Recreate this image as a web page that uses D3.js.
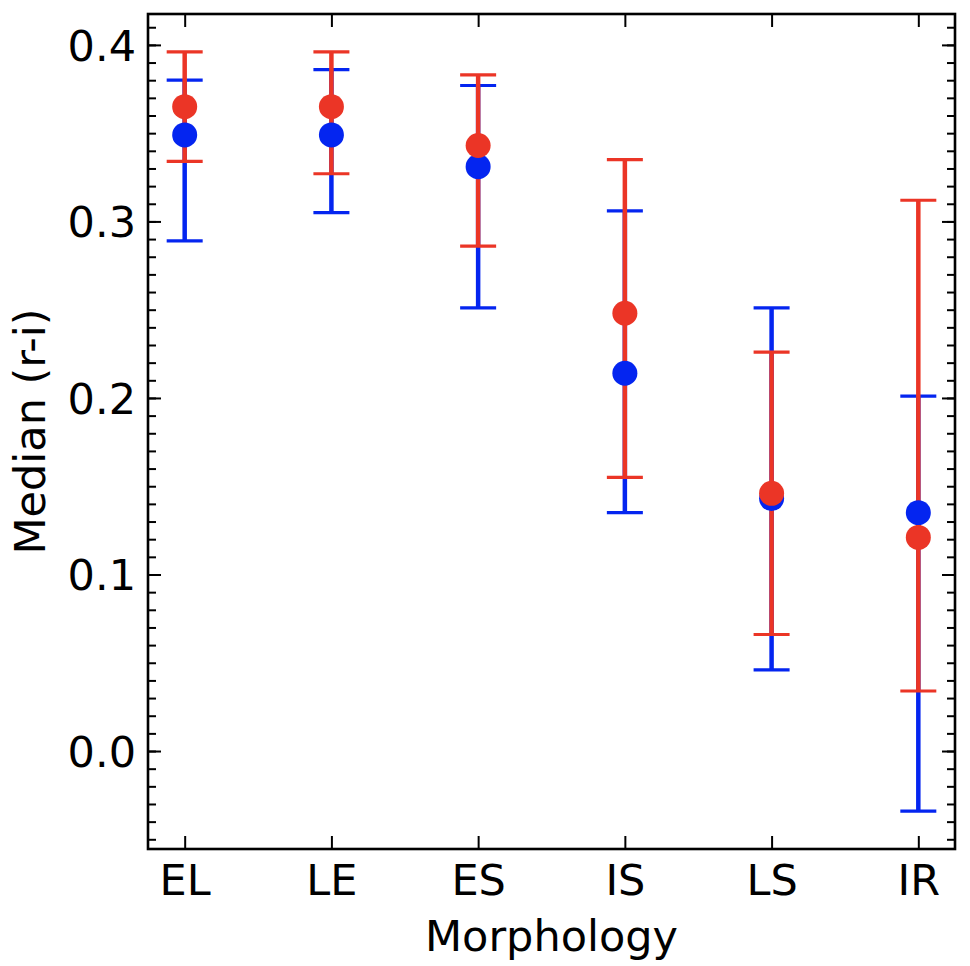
<!DOCTYPE html>
<html>
<head>
<meta charset="utf-8">
<script src="https://cdn.jsdelivr.net/npm/d3@7"></script>
<style>
    body { margin: 0; background: #fff; }
    #chart { width: 970px; height: 966px; }
    text { font-family: "DejaVu Sans", sans-serif; fill: #000; }
</style>
</head>
<body>
<div id="chart"></div>
<script>
// morphology classes along the x axis
let categories = ['EL', 'LE', 'ES', 'IS', 'LS', 'IR'];

// blue sample: median (r-i) with lower / upper error limits
let blueMedian = [0.349, 0.349, 0.331, 0.214, 0.143, 0.135];
let blueLow    = [0.289, 0.305, 0.251, 0.135, 0.046, -0.034];
let blueHigh   = [0.380, 0.386, 0.377, 0.306, 0.251, 0.201];

// red sample
let redMedian = [0.365, 0.365, 0.343, 0.248, 0.146, 0.121];
let redLow    = [0.334, 0.327, 0.286, 0.155, 0.066, 0.034];
let redHigh   = [0.396, 0.396, 0.383, 0.335, 0.226, 0.312];

let yTicks = [0.0, 0.1, 0.2, 0.3, 0.4];

class errorbar_plot {

    constructor(parentElement) {
        this.parentElement = parentElement;
        this.initVis();
    }

    initVis() {
        let vis = this;

        vis.margin = {top: 14, right: 15, bottom: 117, left: 148};
        vis.width = 970 - vis.margin.left - vis.margin.right;
        vis.height = 966 - vis.margin.top - vis.margin.bottom;

        vis.svg = d3.select('#' + vis.parentElement).append('svg')
            .attr('width', 970)
            .attr('height', 966)
            .append('g')
            .attr('transform', `translate(${vis.margin.left}, ${vis.margin.top})`);

        vis.xScale = d3.scalePoint()
            .domain(categories)
            .range([0, vis.width])
            .padding(0.25);

        let lo = d3.min(blueLow.concat(redLow));
        let hi = d3.max(blueHigh.concat(redHigh));
        let pad = (hi - lo) * 0.05;
        vis.yScale = d3.scaleLinear()
            .domain([lo - pad, hi + pad])
            .range([vis.height, 0]);

        vis.series = [
            {name: 'blue', color: '#0425f0', median: blueMedian, low: blueLow, high: blueHigh},
            {name: 'red', color: '#eb3526', median: redMedian, low: redLow, high: redHigh}
        ];

        this.wrangleData();
    }

    wrangleData() {
        let vis = this;
        vis.graphData = [];
        vis.series.forEach(function(s) {
            categories.forEach(function(c, i) {
                vis.graphData.push({
                    cat: c,
                    median: s.median[i],
                    low: s.low[i],
                    high: s.high[i],
                    color: s.color
                });
            });
        });
        vis.updateVis();
    }

    updateVis() {
        let vis = this;
        let capHalf = 18;

        // error bars (all below the markers)
        let bars = vis.svg.append('g').attr('class', 'bars')
            .selectAll('g')
            .data(vis.graphData)
            .enter().append('g');

        bars.append('line')
            .attr('x1', d => vis.xScale(d.cat))
            .attr('x2', d => vis.xScale(d.cat))
            .attr('y1', d => vis.yScale(d.low))
            .attr('y2', d => vis.yScale(d.high))
            .attr('stroke', d => d.color)
            .attr('stroke-width', 4.5);

        ['low', 'high'].forEach(function(k) {
            bars.append('line')
                .attr('x1', d => vis.xScale(d.cat) - capHalf)
                .attr('x2', d => vis.xScale(d.cat) + capHalf)
                .attr('y1', d => vis.yScale(d[k]))
                .attr('y2', d => vis.yScale(d[k]))
                .attr('stroke', d => d.color)
                .attr('stroke-width', 3.2);
        });

        // markers
        vis.svg.append('g').attr('class', 'points')
            .selectAll('circle')
            .data(vis.graphData)
            .enter().append('circle')
            .attr('cx', d => vis.xScale(d.cat))
            .attr('cy', d => vis.yScale(d.median))
            .attr('r', 12.5)
            .attr('fill', d => d.color);

        // axes, ticks pointing inward on all four sides
        let minorTicks = d3.range(-5, 42).map(d => d / 100)
            .filter(d => d >= vis.yScale.domain()[0] && d <= vis.yScale.domain()[1]);

        let axes = vis.svg.append('g').attr('class', 'axes');

        axes.append('g')
            .attr('class', 'y-axis axis')
            .call(d3.axisLeft(vis.yScale).tickValues(yTicks).tickFormat(d3.format('.1f'))
                .tickSize(-13).tickPadding(12));
        axes.append('g')
            .call(d3.axisLeft(vis.yScale).tickValues(minorTicks).tickFormat('').tickSize(-8));
        axes.append('g')
            .attr('transform', `translate(${vis.width}, 0)`)
            .call(d3.axisRight(vis.yScale).tickValues(yTicks).tickFormat('').tickSize(-13));
        axes.append('g')
            .attr('transform', `translate(${vis.width}, 0)`)
            .call(d3.axisRight(vis.yScale).tickValues(minorTicks).tickFormat('').tickSize(-8));
        axes.append('g')
            .attr('class', 'x-axis axis')
            .attr('transform', `translate(0, ${vis.height})`)
            .call(d3.axisBottom(vis.xScale).tickSize(-13).tickPadding(15));
        axes.append('g')
            .call(d3.axisTop(vis.xScale).tickFormat('').tickSize(-13));

        axes.selectAll('.domain').remove();
        axes.selectAll('.tick line').attr('stroke', '#000').attr('stroke-width', 2);
        axes.selectAll('.tick text')
            .style('font-family', '"DejaVu Sans", sans-serif')
            .style('font-size', '43px')
            .attr('fill', '#000');
        axes.selectAll('.y-axis .tick text').attr('dy', '0.36em');

        // frame
        vis.svg.append('rect')
            .attr('width', vis.width)
            .attr('height', vis.height)
            .attr('fill', 'none')
            .attr('stroke', '#000')
            .attr('stroke-width', 2.6);

        // axis labels
        vis.svg.append('text')
            .text('Morphology')
            .attr('x', vis.width / 2)
            .attr('y', vis.height + 102)
            .attr('text-anchor', 'middle')
            .style('font-size', '43px');
        vis.svg.append('text')
            .text('Median (r-i)')
            .attr('transform', `translate(${45 - vis.margin.left}, ${vis.height / 2}) rotate(-90)`)
            .attr('text-anchor', 'middle')
            .style('font-size', '43px');
    }
}

let main_plot = new errorbar_plot('chart');
</script>
</body>
</html>
